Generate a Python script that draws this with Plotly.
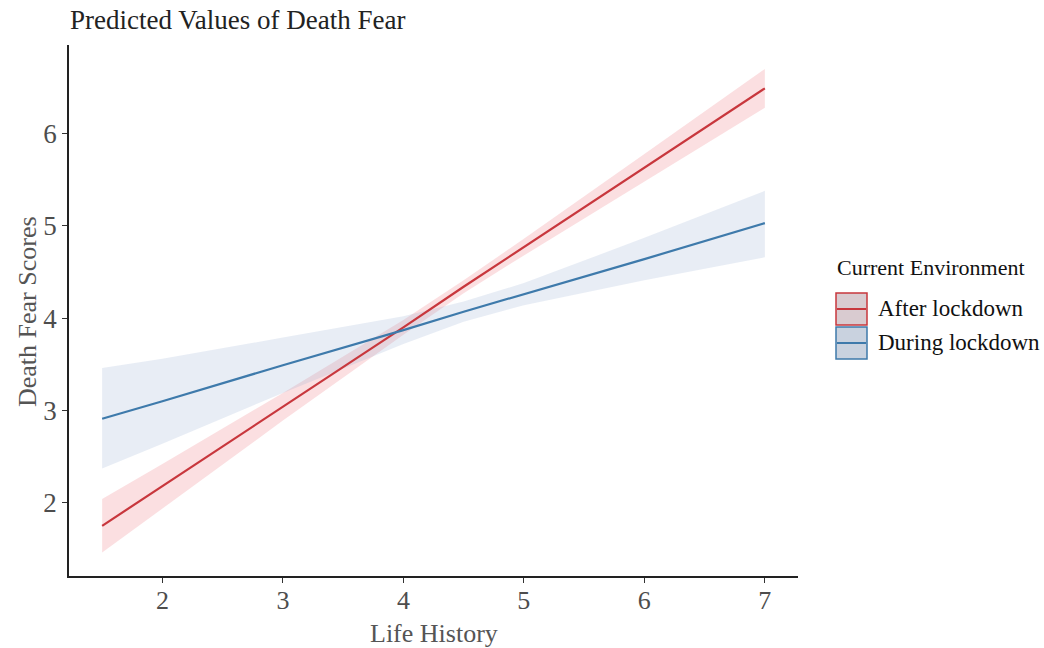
import plotly.graph_objects as go

# ---- data ----
life_history = [1.5, 2, 3, 4, 4.5, 5, 6, 7]

after_pred = [1.75, 2.18, 3.04, 3.90, 4.34, 4.77, 5.63, 6.49]
after_upper = [2.04, 2.42, 3.19, 3.98, 4.41, 4.86, 5.78, 6.70]
after_lower = [1.46, 1.94, 2.89, 3.82, 4.27, 4.68, 5.48, 6.28]

during_pred = [2.91, 3.10, 3.49, 3.87, 4.07, 4.26, 4.64, 5.03]
during_upper = [3.46, 3.56, 3.79, 4.02, 4.18, 4.38, 4.87, 5.38]
during_lower = [2.37, 2.64, 3.19, 3.72, 3.96, 4.14, 4.41, 4.66]

groups = ["After lockdown", "During lockdown"]
x_ticks = [2, 3, 4, 5, 6, 7]
y_ticks = [2, 3, 4, 5, 6]

RED = "#C8373D"
BLUE = "#3E7AAB"
RED_FILL = "rgba(240,120,130,0.24)"
BLUE_FILL = "rgba(150,175,210,0.22)"
KEY_FILLS = ["#D9CBD0", "#C9D2DF"]

SERIF = "Liberation Serif, Times New Roman, serif"

W, H = 1044, 648
L, R, T, B = 69, 246, 45, 72

fig = go.Figure()

series = [
    (groups[0], after_pred, after_upper, after_lower, RED, RED_FILL),
    (groups[1], during_pred, during_upper, during_lower, BLUE, BLUE_FILL),
]

for name, pred, up, lo, col, fcol in series:
    fig.add_trace(go.Scatter(
        x=life_history + life_history[::-1],
        y=up + lo[::-1],
        fill="toself", fillcolor=fcol, mode="lines",
        line=dict(width=0, color="rgba(0,0,0,0)"),
        hoverinfo="skip", showlegend=False,
    ))

for name, pred, up, lo, col, fcol in series:
    fig.add_trace(go.Scatter(
        x=life_history, y=pred, mode="lines",
        line=dict(color=col, width=2.2), showlegend=False, name=name,
    ))

# ---- manual legend (paper coordinates) ----
pw = W - L - R
ph = H - T - B


def px_x(px):
    return (px - L) / pw


def px_y(py):
    return (H - B - py) / ph


shapes = []
annotations = []
key_tops = [293, 327]
for i, (name, pred, up, lo, col, fcol) in enumerate(series):
    top = key_tops[i]
    bot = top + 32
    shapes.append(dict(type="rect", xref="paper", yref="paper",
                       x0=px_x(836), x1=px_x(867), y0=px_y(bot), y1=px_y(top),
                       fillcolor=KEY_FILLS[i], line=dict(color=col, width=1.5)))
    mid = (top + bot) / 2
    shapes.append(dict(type="line", xref="paper", yref="paper",
                       x0=px_x(837), x1=px_x(866), y0=px_y(mid), y1=px_y(mid),
                       line=dict(color=col, width=2)))
    annotations.append(dict(text=name, xref="paper", yref="paper",
                            x=px_x(876), y=px_y(mid - 1), xanchor="left", yanchor="middle",
                            showarrow=False,
                            font=dict(size=23, color="#111111", family=SERIF)))

annotations.append(dict(text="Current Environment", xref="paper", yref="paper",
                        x=px_x(835), y=px_y(267), xanchor="left", yanchor="middle",
                        showarrow=False, font=dict(size=22, color="#111111", family=SERIF)))

# axis titles
annotations.append(dict(text="Life History", xref="paper", yref="paper",
                        x=px_x(434), y=px_y(633), xanchor="center", yanchor="middle",
                        showarrow=False, font=dict(size=26, color="#555555", family=SERIF)))
annotations.append(dict(text="Death Fear Scores", xref="paper", yref="paper",
                        x=px_x(28), y=px_y(312), xanchor="center", yanchor="middle",
                        textangle=-90, showarrow=False,
                        font=dict(size=26, color="#555555", family=SERIF)))

fig.update_layout(
    width=W, height=H,
    paper_bgcolor="white", plot_bgcolor="white",
    margin=dict(l=L, r=R, t=T, b=B, autoexpand=False),
    font=dict(family=SERIF, color="#222222"),
    title=dict(text="Predicted Values of Death Fear", x=70 / W, xref="container",
               xanchor="left", y=1 - 20 / H, yref="container", yanchor="middle",
               font=dict(size=27, color="#222222", family=SERIF)),
    xaxis=dict(
        range=[1.225, 7.275], tickvals=x_ticks, ticktext=[str(v) for v in x_ticks],
        showgrid=False, zeroline=False, showline=True, linecolor="#222222",
        linewidth=1.5, ticks="outside", ticklen=5, tickcolor="#333333", tickwidth=1,
        tickfont=dict(size=26, color="#4D4D4D", family=SERIF),
        ticklabelstandoff=-5,
        automargin=False,
    ),
    yaxis=dict(
        range=[1.206, 6.96], tickvals=y_ticks, ticktext=[str(v) for v in y_ticks],
        showgrid=False, zeroline=False, showline=True, linecolor="#222222",
        linewidth=1.5, ticks="outside", ticklen=5, tickcolor="#333333", tickwidth=1,
        tickfont=dict(size=27, color="#4D4D4D", family=SERIF),
        automargin=False,
    ),
    shapes=shapes,
    annotations=annotations,
    showlegend=False,
    hovermode=False,
)

fig.write_html("out.html", post_script="document.body.style.margin='0px';",
               config={"displayModeBar": False})
